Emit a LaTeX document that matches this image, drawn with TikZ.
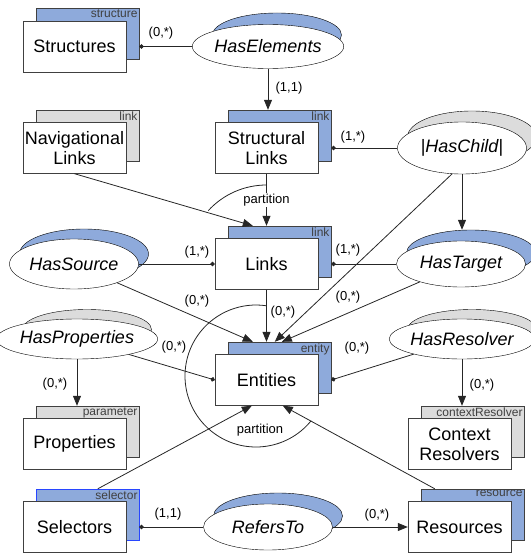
\documentclass[tikz,border=0pt]{standalone}
\usepackage{fontspec}
\setmainfont{Liberation Sans}
\usetikzlibrary{arrows.meta,shapes.geometric}
\definecolor{shblue}{RGB}{142,170,219}
\definecolor{shgrey}{RGB}{220,220,220}
\definecolor{bord}{RGB}{64,64,64}
\definecolor{selblue}{RGB}{40,70,255}
\begin{document}
\begin{tikzpicture}[x=1pt,y=-1pt,
 front/.style={draw=bord, fill=white, minimum width=103pt, minimum height=51pt, inner sep=0pt, align=center, font=\fontsize{18}{20}\selectfont},
 back/.style={draw=bord, minimum width=103pt, minimum height=51pt, inner sep=0pt},
 tag/.style={font=\fontsize{12}{12}\selectfont, text=bord, inner sep=1.5pt, anchor=north east},
 rel/.style={ellipse, draw=black, fill=white, minimum width=129pt, minimum height=#1, inner sep=0pt, font=\fontsize{18}{20}\selectfont\itshape},
 rel/.default=46pt,
 relsh/.style={ellipse, draw=black, minimum width=129pt, minimum height=#1, inner sep=0pt},
 relsh/.default=46pt,
 card/.style={font=\fontsize{13}{13}\selectfont, inner sep=0pt},
 con/.style={draw=black!85, line width=0.8pt},
 arr/.style={con, -{Triangle[length=10pt,width=8pt]}},
 dotcon/.style={con, {Circle[length=4.5pt]}-},
 part/.style={font=\fontsize{13}{13}\selectfont, inner sep=1pt}
]
\useasboundingbox (0,0) rectangle (530,556);

% ---- boxes (back then front) ----
\node[back, fill=shblue] (structuresB) at (87.5,34) {};
\node[tag] (structuresT) at (structuresB.north east) {structure};
\node[front] (structures) at (74.5,46.5) {Structures};

\node[back, fill=shgrey] (navlinksB) at (87.5,135.5) {};
\node[tag] (navlinksT) at (navlinksB.north east) {link};
\node[front] (navlinks) at (74.5,148) {Navigational\\Links};

\node[back, fill=shblue] (structlinksB) at (279.5,135.5) {};
\node[tag] (structlinksT) at (structlinksB.north east) {link};
\node[front] (structlinks) at (266.5,148) {Structural\\Links};

\node[back, fill=shblue] (linksB) at (279.5,251.5) {};
\node[tag] (linksT) at (linksB.north east) {link};
\node[front] (links) at (266.5,264) {Links};

\node[back, fill=shblue] (entitiesB) at (279.5,367.5) {};
\node[tag] (entitiesT) at (entitiesB.north east) {entity};
\node[front] (entities) at (266.5,380) {Entities};

\node[back, fill=shgrey] (propertiesB) at (87.5,431.5) {};
\node[tag] (propertiesT) at (propertiesB.north east) {parameter};
\node[front] (properties) at (74.5,444) {Properties};

\node[back, fill=shgrey] (ctxresB) at (472.5,431.5) {};
\node[tag] (ctxresT) at (ctxresB.north east) {contextResolver};
\node[front] (ctxres) at (459.5,444) {Context\\Resolvers};

\node[back, fill=shblue, draw=selblue] (selectorsB) at (87.5,514.5) {};
\node[tag] (selectorsT) at (selectorsB.north east) {selector};
\node[front] (selectors) at (74.5,527) {Selectors};

\node[back, fill=shblue] (resourcesB) at (472.5,514.5) {};
\node[tag] (resourcesT) at (resourcesB.north east) {resource};
\node[front] (resources) at (459.5,527) {Resources};

% ---- relationship ellipses ----
\node[relsh=44pt, fill=shblue] (haselementsS) at (277,35) {};
\node[rel=44pt] (haselements) at (268,46.5) {HasElements};

\node[relsh=52pt, fill=shgrey] (haschildS) at (472,137) {};
\node[rel=52pt] (haschild) at (462,148) {{\upshape|}HasChild{\upshape|}};

\node[relsh=50pt, fill=shblue] (hassourceS) at (84,254) {};
\node[rel=50pt] (hassource) at (74,264) {HasSource};

\node[relsh=46pt, fill=shblue] (hastargetS) at (471,253) {};
\node[rel=46pt] (hastarget) at (461,264) {HasTarget};

\node[relsh=40pt, fill=shgrey] (haspropertiesS) at (87,329.5) {};
\node[rel=40pt] (hasproperties) at (77,339) {HasProperties};

\node[relsh=40pt, fill=shgrey] (hasresolverS) at (472,329.5) {};
\node[rel=40pt] (hasresolver) at (462,339) {HasResolver};

\node[relsh=46pt, fill=shblue] (referstoS) at (278,516) {};
\node[rel=46pt] (refersto) at (268,527) {RefersTo};

% ---- partition arcs ----
\draw[con] (links.center) ++(-137.5:79) arc[start angle=-137.5, end angle=-90, radius=79];
\draw[con] (256,376) ++(39:71) arc[start angle=39, end angle=278.5, radius=71];
\node[part] (partE) at (260,430) {partition};

% ---- connectors ----
\draw[dotcon] (structuresB.east |- structures.center) -- (haselements.west);
\node[card] (c1) at (161,33) {(0,*)};

\draw[arr] (haselements.south) -- (haselements.south |- structlinksB.north);
\node[card] (c2) at (289,88) {(1,1)};

\draw[dotcon] (structlinksB.east |- structlinks.center) -- (haschild.west);
\node[card] (c3) at (353,137) {(1,*)};

\draw[arr] (haschild.south) -- (haschild.south |- hastargetS.north);
\draw[arr] (haschild.249) -- ([xshift=47pt]entitiesB.north west);

\draw[arr] (navlinks.south) -- ([xshift=25pt]linksB.north west);
\draw[arr] (structlinks.south) -- node[part, fill=white] (partL) {partition} (structlinks.south |- linksB.north);

\draw[dotcon] (links.west) -- (hassource.east);
\node[card] (c4) at (197,252) {(1,*)};
\draw[dotcon] (linksB.east |- links.center) -- (hastarget.west);
\node[card] (c5) at (348,250) {(1,*)};

\draw[arr] (hassource) -- ([xshift=25pt]entitiesB.north west);
\node[card] (c6) at (197,301) {(0,*)};
\draw[arr] (hastarget) -- ([xshift=54pt]entitiesB.north west);
\node[card] (c7) at (348,297) {(0,*)};
\draw[arr] (links.south) -- (links.south |- entitiesB.north);
\node[card] (c8) at (283,312) {(0,*)};

\draw[dotcon] (entities.west) -- (hasproperties);
\node[card] (c9) at (174,347) {(0,*)};
\draw[arr] (hasproperties.south) -- (hasproperties.south |- propertiesB.north);
\node[card] (c10) at (55,384) {(0,*)};

\draw[dotcon] (entitiesB.east |- entities.center) -- (hasresolver);
\node[card] (c11) at (357,348) {(0,*)};
\draw[arr] (hasresolver.south) -- (hasresolver.south |- ctxresB.north);
\node[card] (c12) at (482,385) {(0,*)};

\draw[arr] ([xshift=62pt]selectorsB.north west) -- ([xshift=37pt]entities.south west);
\draw[arr] ([xshift=14pt]resourcesB.north west) -- ([xshift=68pt]entities.south west);

\draw[dotcon] (selectorsB.east |- selectors.center) -- (refersto.west);
\node[card] (c13) at (168,514) {(1,1)};
\draw[arr] (refersto.east) -- (resources.west);
\node[card] (c14) at (377,515) {(0,*)};
\end{tikzpicture}
\end{document}
